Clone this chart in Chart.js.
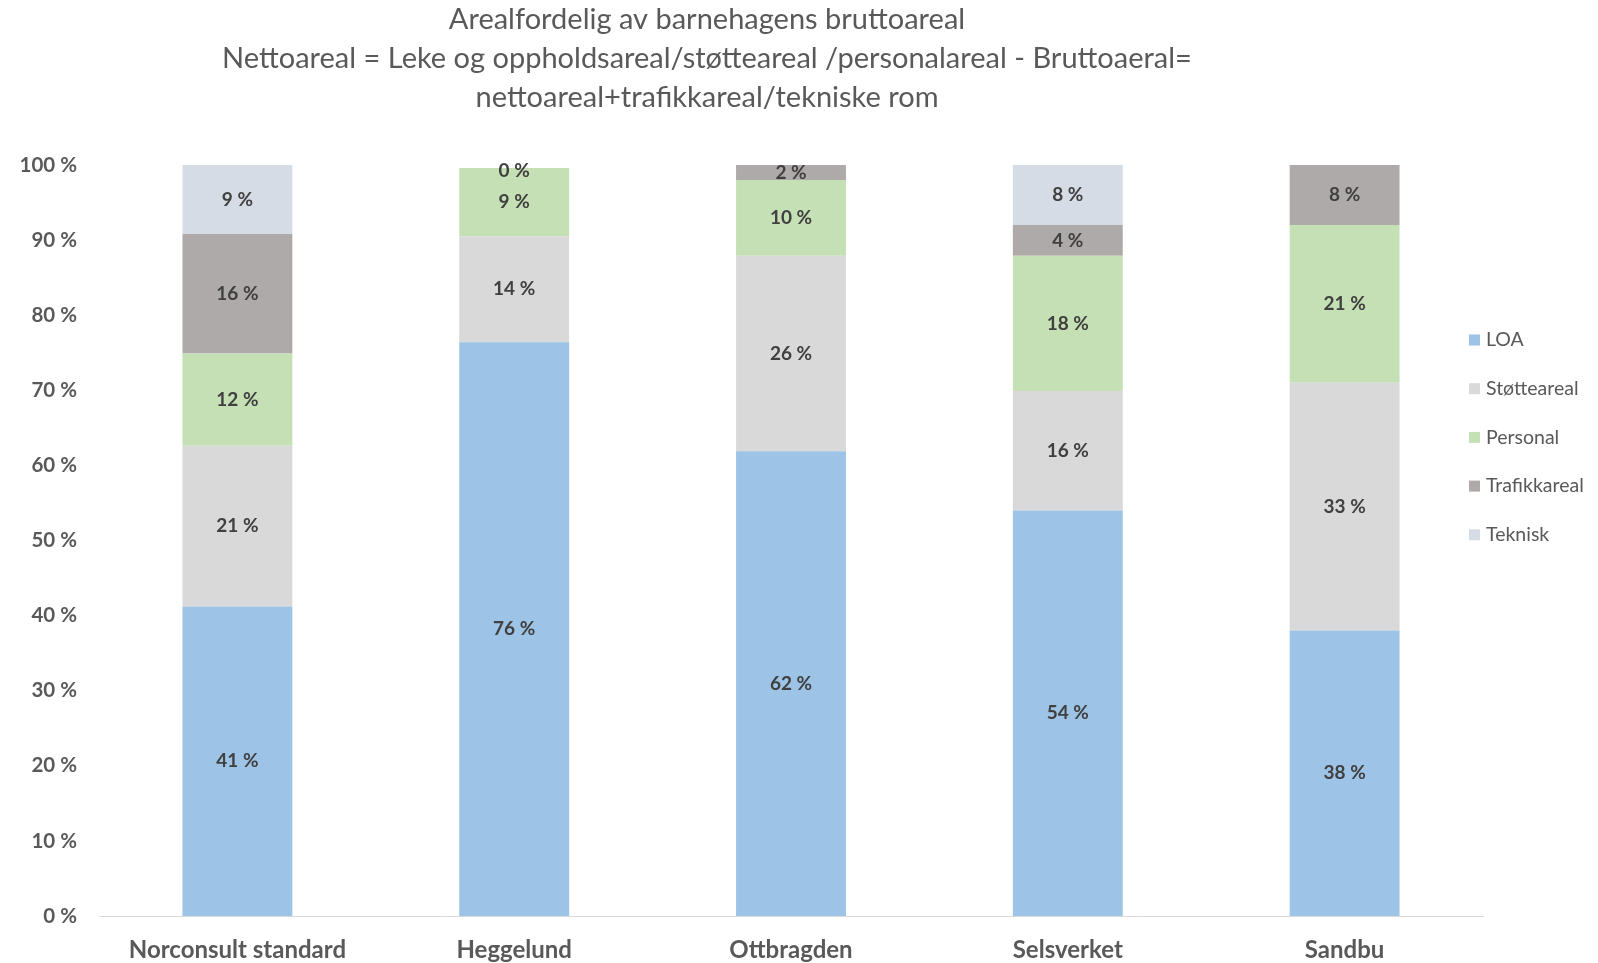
<!DOCTYPE html>
<html>
<head>
<meta charset="utf-8">
<script src="https://cdn.jsdelivr.net/npm/chart.js@4.4.1/dist/chart.umd.min.js"></script>
<style>
html,body{margin:0;padding:0;background:#fff;}
#wrap{width:1598px;height:963px;position:relative;}
</style>
</head>
<body>
<div id="wrap"><canvas id="c" width="1598" height="963"></canvas></div>
<script>
const categories = ['Norconsult standard', 'Heggelund', 'Ottbragden', 'Selsverket', 'Sandbu'];
const seriesNames = ['LOA', 'Støtteareal', 'Personal', 'Trafikkareal', 'Teknisk'];
const loa = [41.2, 76.4, 61.9, 54.0, 38.0];
const stotte = [21.4, 14.1, 26.0, 15.9, 33.0];
const personal = [12.3, 9.1, 10.1, 18.0, 21.0];
const trafikk = [15.9, 0, 2.0, 4.1, 8.0];
const teknisk = [9.2, null, null, 8.0, null];
const seriesColors = ['#9DC3E6', '#D9D9D9', '#C5E0B4', '#AEAAAA', '#D6DCE5'];
const titleLines = [
  'Arealfordelig av barnehagens bruttoareal',
  'Nettoareal = Leke og oppholdsareal/støtteareal /personalareal - Bruttoaeral=',
  'nettoareal+trafikkareal/tekniske rom'
];
const yTicks = [0,10,20,30,40,50,60,70,80,90,100];

const FONT = 'Lato, "Open Sans", sans-serif';
const seriesData = [loa, stotte, personal, trafikk, teknisk];

const titlePlugin = {
  id: 'customTitle',
  afterDraw(chart) {
    const ctx = chart.ctx;
    ctx.save();
    ctx.fillStyle = '#595959';
    ctx.font = '400 29px ' + FONT;
    ctx.textAlign = 'center';
    ctx.textBaseline = 'alphabetic';
    titleLines.forEach((t, i) => ctx.fillText(t, 707, 28.5 + i * 39));
    ctx.restore();
  }
};

const labelPlugin = {
  id: 'segLabels',
  afterDatasetsDraw(chart) {
    const ctx = chart.ctx;
    const area = chart.chartArea;
    ctx.save();
    ctx.fillStyle = '#404040';
    ctx.font = 'bold 19px ' + FONT;
    ctx.textAlign = 'center';
    ctx.textBaseline = 'middle';
    chart.data.datasets.forEach((ds, di) => {
      const meta = chart.getDatasetMeta(di);
      meta.data.forEach((el, i) => {
        const v = ds.data[i];
        if (v === null || v === undefined) return;
        let y = (el.y + el.base) / 2;
        y = Math.max(y, area.top + 6);
        ctx.fillText(Math.round(v) + ' %', el.x, y);
      });
    });
    ctx.restore();
  }
};

const legendPlugin = {
  id: 'customLegend',
  afterDraw(chart) {
    const ctx = chart.ctx;
    const area = chart.chartArea;
    ctx.save();
    ctx.font = '19.5px ' + FONT;
    ctx.textAlign = 'left';
    ctx.textBaseline = 'middle';
    seriesNames.forEach((n, i) => {
      const cy = area.top + 175 + i * 48.7;
      const x = area.right - 14;
      ctx.fillStyle = seriesColors[i];
      ctx.fillRect(x, cy - 5.5, 11, 11);
      ctx.fillStyle = '#595959';
      ctx.fillText(n, x + 17, cy);
    });
    ctx.restore();
  }
};

new Chart(document.getElementById('c'), {
  type: 'bar',
  data: {
    labels: categories,
    datasets: seriesNames.map((n, i) => ({
      label: n,
      data: seriesData[i],
      backgroundColor: seriesColors[i],
      borderWidth: 0,
      categoryPercentage: 0.397,
      barPercentage: 1.0
    }))
  },
  options: {
    responsive: false,
    animation: false,
    layout: { padding: { top: 165, right: 115, left: 0, bottom: 0 } },
    plugins: {
      legend: { display: false },
      title: { display: false },
      tooltip: { enabled: false }
    },
    scales: {
      x: {
        stacked: true,
        grid: { display: false, drawTicks: false },
        border: { display: true, color: '#D9D9D9', width: 1 },
        ticks: { color: '#595959', font: { family: FONT, size: 24, weight: 'bold' }, padding: 20, maxRotation: 0 },
        afterFit(s) { s.height = 47; s.paddingLeft = 0; s.paddingRight = 0; }
      },
      y: {
        stacked: true,
        min: 0, max: 100,
        afterBuildTicks(s) { s.ticks = yTicks.map(v => ({ value: v })); },
        grid: { display: false, drawTicks: false },
        border: { display: false },
        ticks: { color: '#595959', font: { family: FONT, size: 20.5, weight: 'bold' }, padding: 22, callback: v => v + ' %' },
        afterFit(s) { s.width = 99; s.paddingTop = 0; s.paddingBottom = 0; }
      }
    }
  },
  plugins: [titlePlugin, labelPlugin, legendPlugin]
});
</script>
</body>
</html>
